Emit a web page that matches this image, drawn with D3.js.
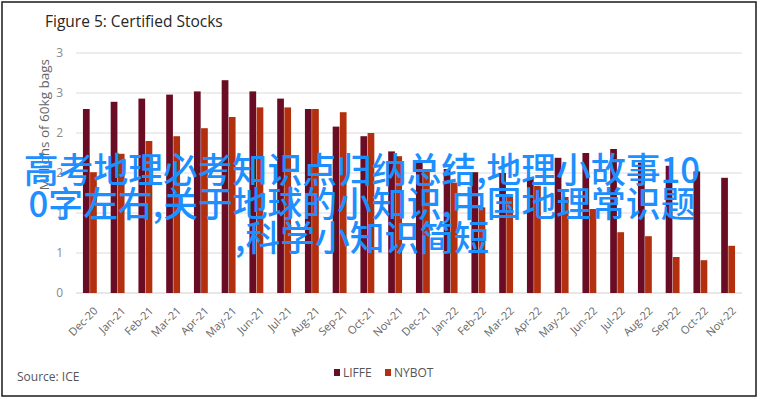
<!DOCTYPE html>
<html>
<head>
<meta charset="utf-8">
<script src="https://cdn.jsdelivr.net/npm/d3@7"></script>
<style>
  body { margin: 0; background: #fff; }
  svg { display: block; font-family: "Open Sans", sans-serif; }
</style>
</head>
<body>
<script>
const months = ['Dec-20', 'Jan-21', 'Feb-21', 'Mar-21', 'Apr-21', 'May-21', 'Jun-21', 'Jul-21',
  'Aug-21', 'Sep-21', 'Oct-21', 'Nov-21', 'Dec-21', 'Jan-22', 'Feb-22', 'Mar-22', 'Apr-22',
  'May-22', 'Jun-22', 'Jul-22', 'Aug-22', 'Sep-22', 'Oct-22', 'Nov-22'];
const liffe = [2.30, 2.39, 2.43, 2.48, 2.52, 2.66, 2.52, 2.43, 2.30, 2.08, 1.96, 1.77,
  1.65, 1.55, 1.51, 1.50, 1.45, 1.69, 1.75, 1.80, 1.63, 1.59, 1.52, 1.44];
const nybot = [1.51, 1.74, 1.90, 1.96, 2.06, 2.20, 2.32, 2.32, 2.30, 2.26, 2.00, 1.71,
  1.52, 1.38, 1.07, 1.20, 1.34, 1.20, 1.05, 0.76, 0.71, 0.45, 0.41, 0.59];
const seriesNames = ['LIFFE', 'NYBOT'];
const tickValues = [0, 0.5, 1, 1.5, 2, 2.5, 3];
const tickLabels = ['0', '1', '1', '2', '2', '3', '3'];
const overlayLines = ['高考地理必考知识点归纳总结,地理小故事10', '0字左右,关于地球的小知识,中国地理常识题', ',科学小知识简短'];

const w = 760;
const h = 399;
const colors = { LIFFE: '#6a0d24', NYBOT: '#b3300e' };

const svg = d3.select('body').append('svg').attr('width', w).attr('height', h);
svg.append('rect').attr('width', w).attr('height', h).attr('fill', '#fff');
svg.append('rect')
  .attr('x', 2).attr('y', 2).attr('width', 754).attr('height', 394)
  .attr('fill', 'none').attr('stroke', '#1a1a1a').attr('stroke-width', 1.5);

svg.append('text')
  .attr('x', 45).attr('y', 27)
  .attr('font-size', 15.5).attr('fill', '#262626')
  .text('Figure 5: Certified Stocks');

const x0 = d3.scaleBand().domain(months).range([76, 742]).paddingInner(0.5).paddingOuter(0.25);
const x1 = d3.scaleBand().domain(seriesNames).range([0, x0.bandwidth()]).paddingInner(0.06);
const y = d3.scaleLinear().domain([0, 3]).range([293, 53]);

// gridlines + y labels
svg.append('g').selectAll('line').data(tickValues).enter().append('line')
  .attr('x1', 76).attr('x2', 742)
  .attr('y1', (d) => y(d)).attr('y2', (d) => y(d))
  .attr('stroke', (d) => (d === 0 ? '#cfcfcf' : '#dcdcdc')).attr('stroke-width', 1.2);
svg.append('g').selectAll('text').data(tickValues).enter().append('text')
  .attr('x', 63).attr('y', (d) => y(d) + 4)
  .attr('text-anchor', 'end').attr('font-size', 12).attr('fill', '#8a8a8a')
  .text((d, i) => tickLabels[i]);

svg.append('text')
  .attr('transform', 'translate(49,59) rotate(-90)')
  .attr('text-anchor', 'end').attr('font-size', 13.5).attr('fill', '#666')
  .text('Millions of 60kg bags');

// bars
const rows = months.map((m, i) => ({ month: m, LIFFE: liffe[i], NYBOT: nybot[i] }));
const groups = svg.append('g').selectAll('g').data(rows).enter().append('g')
  .attr('transform', (d) => `translate(${x0(d.month)},0)`);
groups.selectAll('rect')
  .data((d) => seriesNames.map((k) => ({ key: k, value: d[k] })))
  .enter().append('rect')
  .attr('x', (d) => x1(d.key))
  .attr('y', (d) => y(d.value))
  .attr('width', x1.bandwidth())
  .attr('height', (d) => y(0) - y(d.value))
  .attr('fill', (d) => colors[d.key]);

// x labels
svg.append('g').selectAll('text').data(months).enter().append('text')
  .attr('transform', (d) => `translate(${x0(d) + x0.bandwidth() / 2 + 3},306) rotate(-45)`)
  .attr('text-anchor', 'end').attr('dy', '0.71em')
  .attr('font-size', 11).attr('fill', '#666')
  .text((d) => d);

// legend + source
svg.append('text')
  .attr('x', 17).attr('y', 381)
  .attr('font-size', 12).attr('fill', '#555')
  .text('Source: ICE');
const legend = svg.append('g').selectAll('g').data(seriesNames).enter().append('g')
  .attr('transform', (d, i) => `translate(${334 + i * 51},369)`);
legend.append('rect').attr('width', 6).attr('height', 7).attr('fill', (d) => colors[d]);
legend.append('text').attr('x', 9).attr('y', 8)
  .attr('font-size', 12).attr('fill', '#555')
  .text((d) => d);

// overlay text
svg.append('g').selectAll('text').data(overlayLines).enter().append('text')
  .attr('x', 362).attr('y', (d, i) => 183 + i * 34)
  .attr('text-anchor', 'middle')
  .attr('font-family', '"Noto Sans CJK SC", sans-serif')
  .attr('font-size', 34.8).attr('font-weight', 500).attr('fill', '#1e8fff')
  .text((d) => d);
</script>
</body>
</html>
